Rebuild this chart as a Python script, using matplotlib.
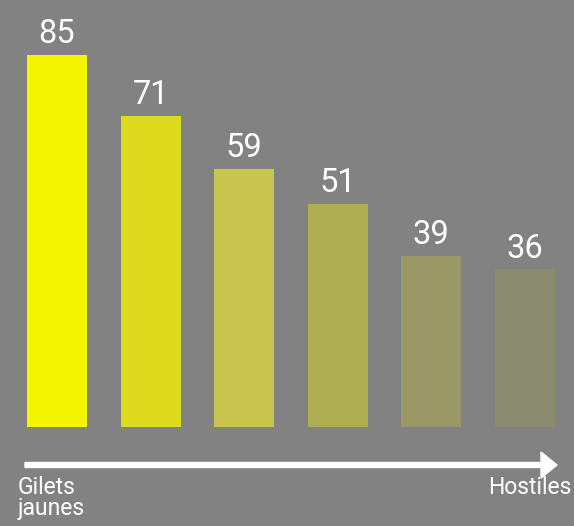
import matplotlib.pyplot as plt
from matplotlib.patches import FancyArrow

# data
values = [85, 71, 59, 51, 39, 36]
colors = ['#f5f500', '#dedb1e', '#c8c550', '#b0ae52', '#9a9866', '#8b8b70']
left_label = 'Gilets\njaunes'
right_label = 'Hostiles'

bg = '#828282'
W, H = 574, 526

fig = plt.figure(figsize=(W/100, H/100), dpi=100, facecolor=bg)
ax = fig.add_axes([0, 99/H, 1, 427/H])
ax.set_facecolor(bg)

x = range(len(values))
bars = ax.bar(x, values, width=0.641, color=colors)
for b, v in zip(bars, values):
    ax.annotate(str(v), (b.get_x() + b.get_width()/2, v), xytext=(0, 8.6),
                textcoords='offset points', ha='center', va='baseline',
                color='white', fontsize=23.5, family='Roboto')

ax.set_xlim(-0.609, 5.524)
ax.set_ylim(0, 97.57)
ax.axis('off')

# arrow along the bottom
arr = FancyArrow(25/W, 1 - 465/H, (557-25)/W, 0, width=5/H, head_width=26/H,
                 head_length=16/W, length_includes_head=True,
                 color='white', transform=fig.transFigure)
fig.add_artist(arr)

fig.text(18/W, 1 - 476/H, left_label, ha='left', va='top', color='white',
         fontsize=16.5, family='Roboto', linespacing=0.9)
fig.text(572/W, 1 - 476/H, right_label, ha='right', va='top', color='white',
         fontsize=16.5, family='Roboto')

plt.savefig('out.png', dpi=100, facecolor=bg)
